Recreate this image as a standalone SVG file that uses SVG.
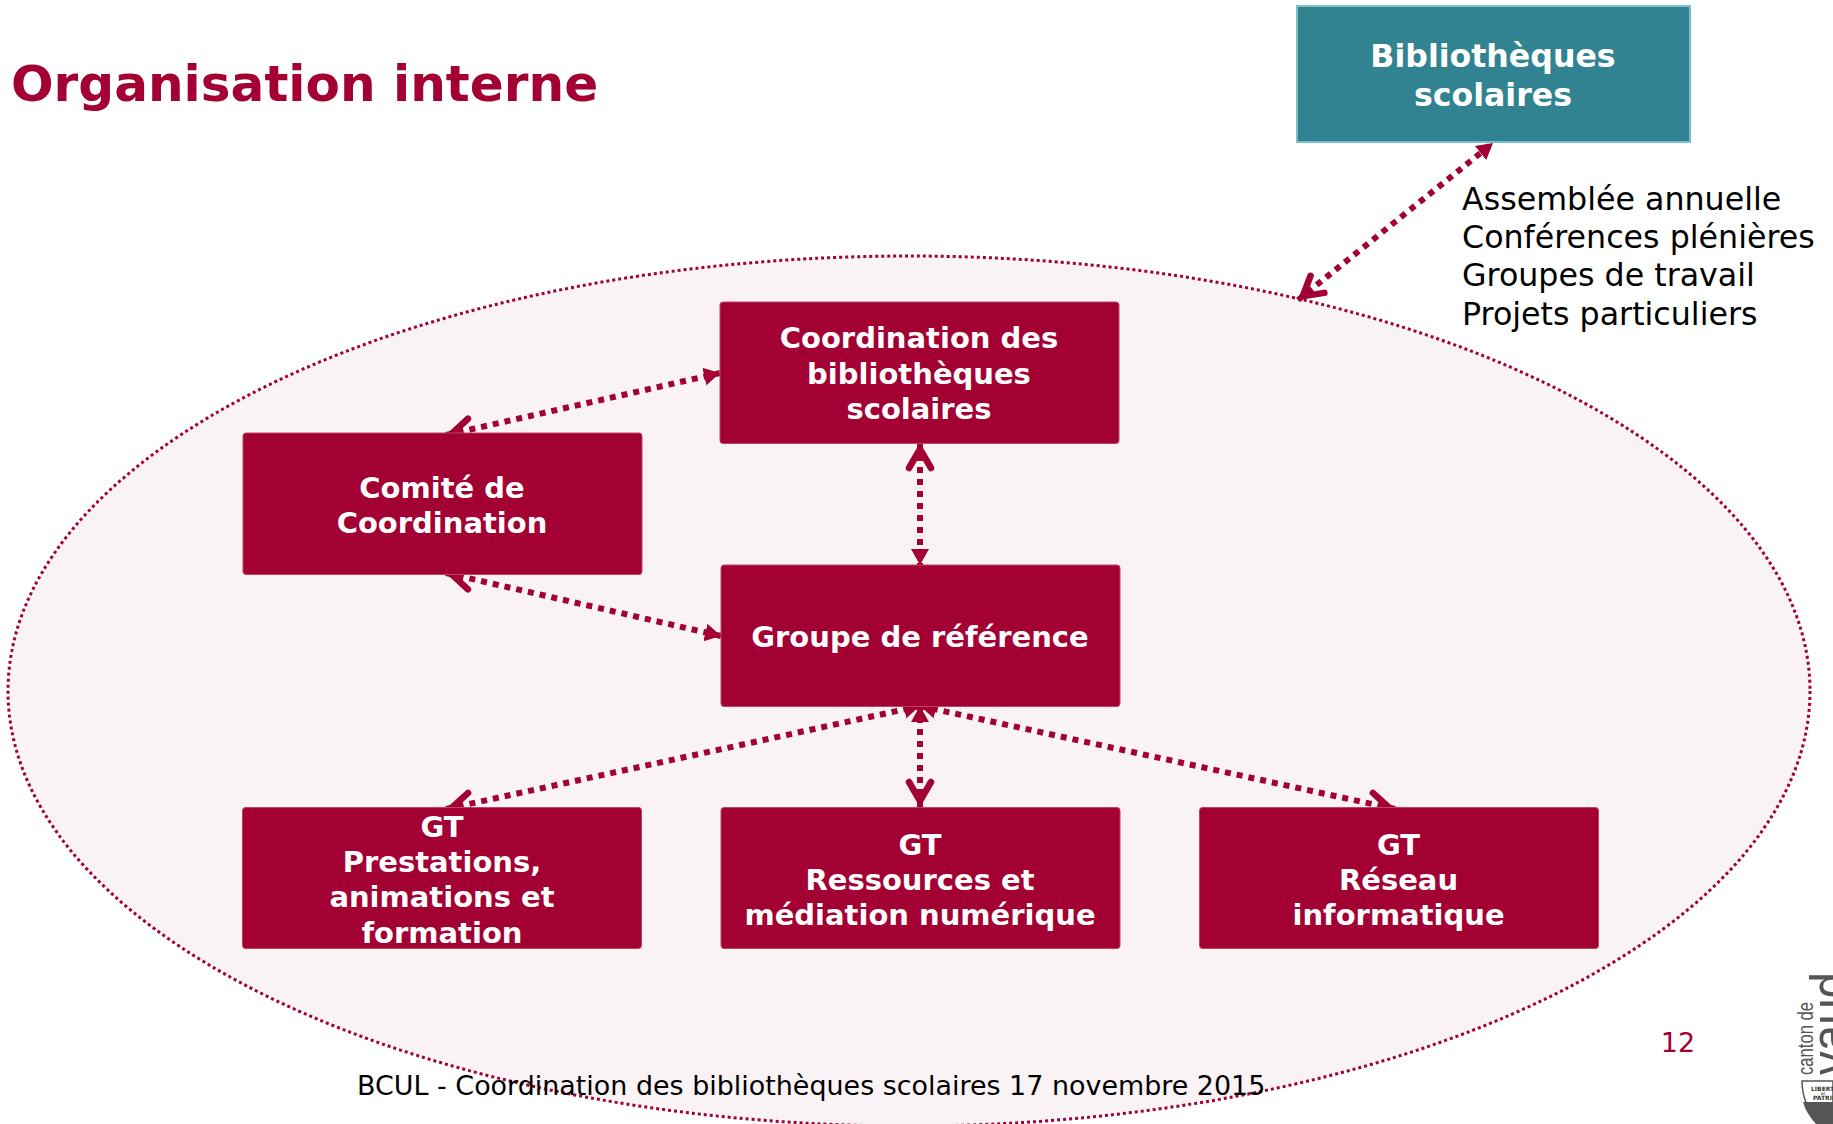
<svg xmlns="http://www.w3.org/2000/svg" width="1833" height="1124" viewBox="0 0 1833 1124">
<style>
text{font-family:"DejaVu Sans",Verdana,sans-serif}
.box{fill:#a30033;stroke:#bb4466;stroke-width:1}
.lbl{fill:#fff;font-weight:700;font-size:29px;text-anchor:middle}
.big{font-size:31.6px}
.note{fill:#000;font-size:31.7px}
.con{fill:none;stroke:#a30033;stroke-width:6;stroke-dasharray:6 6;marker-start:url(#open);marker-end:url(#fill)}
.logo{font-family:"Liberation Sans",sans-serif;fill:#555}
</style>
<defs>
<marker id="fill" markerUnits="userSpaceOnUse" markerWidth="24" markerHeight="24" refX="16" refY="12" orient="auto"><path d="M0 3L16 12L0 21Z" fill="#a30033"/></marker>
<marker id="open" markerUnits="userSpaceOnUse" markerWidth="40" markerHeight="40" refX="0" refY="20" orient="auto"><path d="M25 9L6 20L25 31" fill="none" stroke="#a30033" stroke-width="6.5" stroke-linecap="round" stroke-linejoin="miter"/></marker>
</defs>
<rect width="1833" height="1124" fill="#fff"/>
<ellipse id="boundary" cx="909" cy="691" rx="901" ry="435" fill="#f9f3f6" stroke="#a30033" stroke-width="3" stroke-dasharray="3 3"/>
<text id="title" x="11" y="101" font-size="50.1" font-weight="700" fill="#a30033">Organisation interne</text>
<g id="connectors">
<path class="con" d="M1298 300L1493 143"/>
<path class="con" d="M446 435L720 373"/>
<path class="con" d="M920 443L920 565"/>
<path class="con" d="M446 573L721 636"/>
<path class="con" d="M446 809L920 706"/>
<path class="con" d="M920 807L920 706"/>
<path class="con" d="M1395 809L920 706"/>
</g>
<g id="bibliotheques"><rect x="1297" y="6" width="393" height="136" fill="#328392" stroke="#7ac0c8" stroke-width="2"/>
<text class="lbl big" x="1493" y="66.5">Bibliothèques</text><text class="lbl big" x="1493" y="105.5">scolaires</text></g>
<g id="coordination"><rect class="box" x="720" y="302" width="399" height="141.5" rx="3"/>
<text class="lbl" x="919" y="348">Coordination des</text><text class="lbl" x="919" y="384">bibliothèques</text><text class="lbl" x="919" y="419">scolaires</text></g>
<g id="comite"><rect class="box" x="243" y="433" width="399" height="141.5" rx="3"/>
<text class="lbl" x="442" y="498">Comité de</text><text class="lbl" x="442" y="533">Coordination</text></g>
<g id="groupe"><rect class="box" x="721" y="565" width="399" height="141.5" rx="3"/>
<text class="lbl" x="920" y="647">Groupe de référence</text></g>
<g id="gt1"><rect class="box" x="242.5" y="807.5" width="399" height="141" rx="3"/>
<text class="lbl" x="442" y="837">GT</text><text class="lbl" x="442" y="871.5">Prestations,</text><text class="lbl" x="442" y="907">animations et</text><text class="lbl" x="442" y="942.5">formation</text></g>
<g id="gt2"><rect class="box" x="721" y="807.5" width="399" height="141" rx="3"/>
<text class="lbl" x="920" y="855">GT</text><text class="lbl" x="920" y="889.5">Ressources et</text><text class="lbl" x="920" y="925">médiation numérique</text></g>
<g id="gt3"><rect class="box" x="1199.5" y="807.5" width="399" height="141" rx="3"/>
<text class="lbl" x="1398.5" y="855">GT</text><text class="lbl" x="1398.5" y="889.5">Réseau</text><text class="lbl" x="1398.5" y="925">informatique</text></g>
<g id="notes"><text class="note" x="1462" y="210">Assemblée annuelle</text><text class="note" x="1462" y="248">Conférences plénières</text><text class="note" x="1462" y="286">Groupes de travail</text><text class="note" x="1462" y="325">Projets particuliers</text></g>
<text id="footer" x="357" y="1095" font-size="26.93" fill="#000">BCUL - Coordination des bibliothèques scolaires 17 novembre 2015</text>
<text id="page" x="1678" y="1051.5" text-anchor="middle" font-size="27" fill="#a30033">12</text>
<g id="logo">
<text class="logo" transform="translate(1813 1075) rotate(-90)" font-size="22" textLength="73" lengthAdjust="spacingAndGlyphs">canton de</text>
<text class="logo" transform="translate(1849 1075) rotate(-90)" font-size="56" textLength="103" lengthAdjust="spacingAndGlyphs">vaud</text>
<path d="M1802 1081H1833V1124H1820Q1802 1105 1802 1081Z" fill="#fff" stroke="#555" stroke-width="1.5"/>
<path d="M1803 1102H1833V1124H1816Q1806 1113 1803 1102Z" fill="#555"/>
<text x="1811" y="1091" font-size="6" font-weight="700" fill="#333">LIBERTÉ</text>
<text x="1821" y="1095" font-size="3" font-weight="700" fill="#333">ET</text>
<text x="1813" y="1100" font-size="6" font-weight="700" fill="#333">PATRIE</text>
</g>
</svg>
